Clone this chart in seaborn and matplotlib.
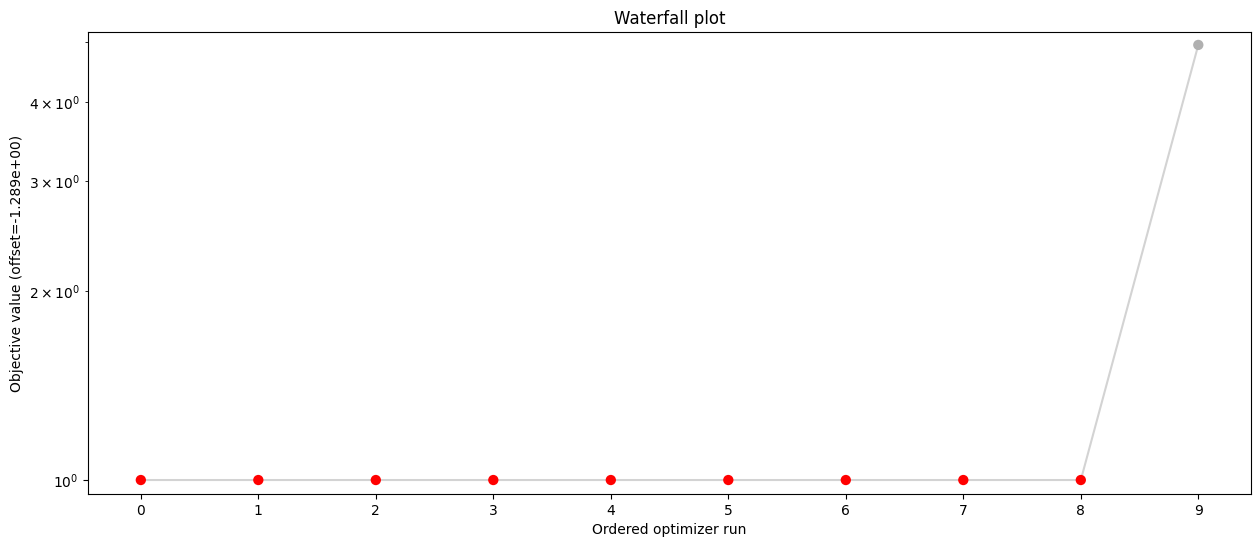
from matplotlib import pyplot as plt
import pandas as pd
import seaborn as sns

runs = [0, 1, 2, 3, 4, 5, 6, 7, 8, 9]
objective = [1.0, 1.0, 1.0, 1.0, 1.0, 1.0, 1.0, 1.0, 1.0, 4.94]
converged = [True, True, True, True, True, True, True, True, True, False]

df = pd.DataFrame({'run': runs, 'value': objective, 'converged': converged})

f, ax = plt.subplots(figsize=(12.6, 5.47), dpi=100)
sns.lineplot(data=df, x='run', y='value', color='lightgrey', linewidth=1.5, ax=ax, zorder=1)
sns.scatterplot(data=df, x='run', y='value', hue='converged',
                palette={True: 'red', False: '#b0b0b0'}, s=55, linewidth=0,
                legend=False, ax=ax, zorder=2)
ax.set_yscale('log')
ax.set_ylim(0.95, 5.18)
ax.set_xticks(runs)
ax.set_title('Waterfall plot')
ax.set_xlabel('Ordered optimizer run')
ax.set_ylabel('Objective value (offset=-1.289e+00)')
plt.subplots_adjust(left=0.0698, right=0.993, bottom=0.0969, top=0.9415)
plt.savefig('out.png', dpi=100)
